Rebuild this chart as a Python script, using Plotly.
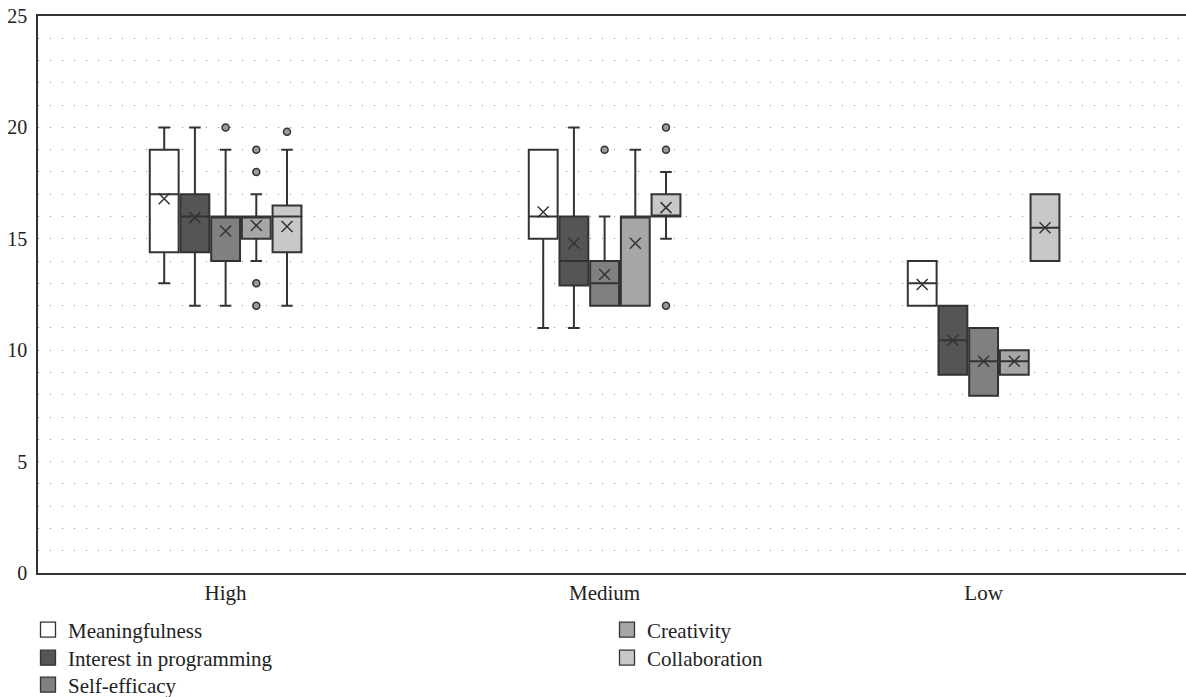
import plotly.graph_objects as go

categories = ["High", "Medium", "Low"]

series_names = ["Meaningfulness", "Interest in programming", "Self-efficacy", "Creativity", "Collaboration"]
fill_colors = ["#ffffff", "#555555", "#808080", "#a6a6a6", "#c8c8c8"]

meaning_q1 = [14.4, 15, 12]
meaning_med = [17, 16, 13]
meaning_q3 = [19, 19, 14]
meaning_lo = [13, 11, 12]
meaning_hi = [20, 19, 14]
meaning_mean = [16.8, 16.2, 12.95]
meaning_out = [[], [], []]

interest_q1 = [14.4, 12.9, 8.9]
interest_med = [16, 14, 10.45]
interest_q3 = [17, 16, 12]
interest_lo = [12, 11, 8.9]
interest_hi = [20, 20, 12]
interest_mean = [15.95, 14.8, 10.45]
interest_out = [[], [], []]

selfeff_q1 = [14, 12, 7.95]
selfeff_med = [16, 13, 9.5]
selfeff_q3 = [16, 14, 11]
selfeff_lo = [12, 12, 7.95]
selfeff_hi = [19, 16, 11]
selfeff_mean = [15.35, 13.4, 9.5]
selfeff_out = [[20], [19], []]

creat_q1 = [15, 12, 8.9]
creat_med = [16, 16, 9.5]
creat_q3 = [16, 16, 10]
creat_lo = [14, 12, 8.9]
creat_hi = [17, 19, 10]
creat_mean = [15.6, 14.8, 9.5]
creat_out = [[19, 18, 13, 12], [], []]

collab_q1 = [14.4, 16, 14]
collab_med = [16, 16, 15.5]
collab_q3 = [16.5, 17, 17]
collab_lo = [12, 15, 14]
collab_hi = [19, 18, 17]
collab_mean = [15.55, 16.4, 15.5]
collab_out = [[19.8], [20, 19, 12], []]

stats = [
    (meaning_q1, meaning_med, meaning_q3, meaning_lo, meaning_hi, meaning_mean, meaning_out),
    (interest_q1, interest_med, interest_q3, interest_lo, interest_hi, interest_mean, interest_out),
    (selfeff_q1, selfeff_med, selfeff_q3, selfeff_lo, selfeff_hi, selfeff_mean, selfeff_out),
    (creat_q1, creat_med, creat_q3, creat_lo, creat_hi, creat_mean, creat_out),
    (collab_q1, collab_med, collab_q3, collab_lo, collab_hi, collab_mean, collab_out),
]

FONT = "Liberation Serif"
fig = go.Figure()

for i, (name, fc, st) in enumerate(zip(series_names, fill_colors, stats)):
    q1, med, q3, lo, hi, mean, out = st
    # sample points: median (inside fences, never drawn) + outliers
    pts = [[m] + list(o) for m, o in zip(med, out)]
    fig.add_trace(go.Box(
        name=name,
        x=categories,
        q1=q1, median=med, q3=q3, lowerfence=lo, upperfence=hi,
        y=pts,
        boxpoints="outliers",
        fillcolor=fc,
        line=dict(color="#333333", width=2),
        whiskerwidth=0.4,
        marker=dict(color="#9a9a9a", size=7, line=dict(color="#333333", width=1.5)),
        offsetgroup=str(i),
        showlegend=False,
        hoverinfo="skip",
    ))
    # mean markers
    fig.add_trace(go.Box(
        name=name + " mean",
        x=categories,
        q1=mean, median=mean, q3=mean, lowerfence=mean, upperfence=mean,
        y=[[m] for m in mean],
        boxpoints="all", jitter=0, pointpos=0,
        fillcolor="rgba(0,0,0,0)",
        line=dict(color="rgba(0,0,0,0)", width=0),
        marker=dict(symbol="x-thin", size=11, color="#333333",
                    line=dict(color="#333333", width=1.5)),
        offsetgroup=str(i),
        showlegend=False,
        hoverinfo="skip",
    ))
    # legend entry (legend-only proxy)
    fig.add_trace(go.Scatter(
        name=name, x=[None], y=[None], mode="markers",
        marker=dict(symbol="square", size=15, color=fc, line=dict(color="#333333", width=1.3)),
        legend="legend" if i == 0 else f"legend{i + 1}",
        hoverinfo="skip",
    ))

# body margin removed via post_script, so the figure fills the 1186x697 page
W, H = 1186, 697
ML, MT, MB = 38, 16, 124
plot_h = H - MT - MB
plot_w = W - ML
legend_rows_px = [630, 658, 685]          # page y of legend row centres
legend_cols_px = [28, 607]                # page x of legend left edges
page_plot_bottom = MT + plot_h
page_plot_left = ML


def ly(py):
    return -(py - page_plot_bottom) / plot_h


def lx(px):
    return (px - page_plot_left) / plot_w


legend_pos = [(0, 0), (0, 1), (0, 2), (1, 0), (1, 1)]
legend_layouts = {}
for i, (c, r) in enumerate(legend_pos):
    key = "legend" if i == 0 else f"legend{i + 1}"
    legend_layouts[key] = dict(
        x=lx(legend_cols_px[c]), xanchor="left",
        y=ly(legend_rows_px[r]), yanchor="middle",
        font=dict(family=FONT, size=21, color="#222222"),
        bgcolor="rgba(0,0,0,0)", borderwidth=0,
    )

fig.update_layout(
    width=W, height=H,
    margin=dict(l=ML, r=0, t=MT, b=MB, autoexpand=False),
    paper_bgcolor="white", plot_bgcolor="white",
    boxmode="group", boxgap=0.595, boxgroupgap=0.06,
    font=dict(family=FONT, size=21, color="#222222"),
    xaxis=dict(
        range=[-0.495, -0.495 + plot_w / 379.0], showgrid=False, showline=True, mirror=True,
        linecolor="#333333", linewidth=1.5, ticks="", automargin=False,
        tickfont=dict(family=FONT, size=21, color="#222222"),
    ),
    yaxis=dict(
        range=[0, 25], dtick=5, showline=True, linecolor="#333333", linewidth=1.5,
        showgrid=True, gridcolor="#8a8a8a", gridwidth=1, griddash="1px,11px",
        zeroline=False, ticks="", automargin=False,
        tickfont=dict(family=FONT, size=20, color="#222222"),
        ticklabelstandoff=5, ticklabeloverflow="allow",
        minor=dict(dtick=1, showgrid=True, gridcolor="#8a8a8a", gridwidth=1,
                   griddash="1px,11px", ticks=""),
    ),
    **legend_layouts,
)

fig.write_html(
    "out.html",
    config={"displayModeBar": False},
    post_script="document.body.style.margin='0';document.body.style.overflow='hidden';",
)
